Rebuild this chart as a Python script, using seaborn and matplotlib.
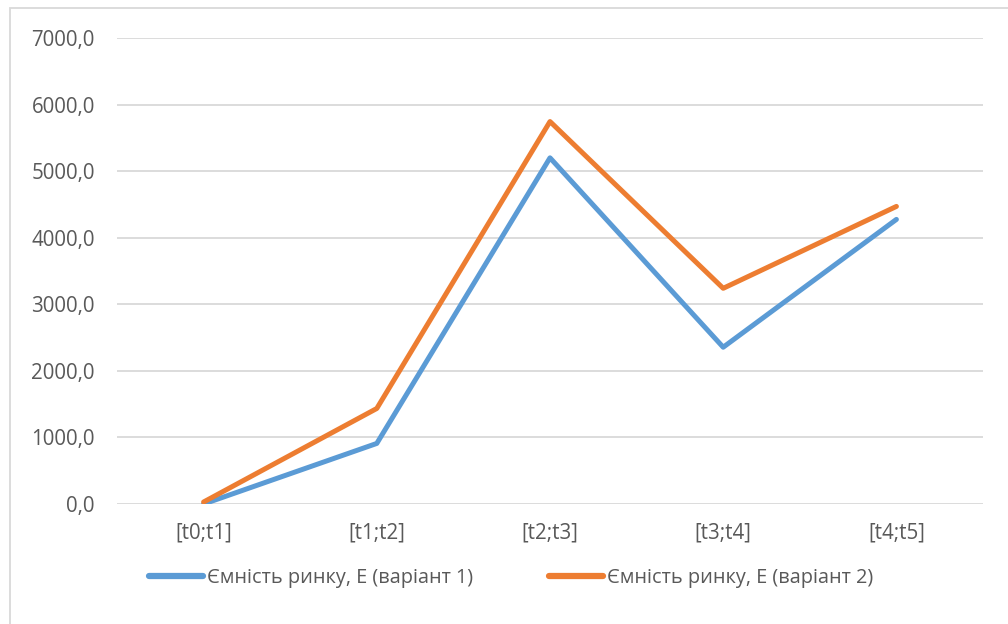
import matplotlib
matplotlib.use("Agg")
import matplotlib.pyplot as plt
import seaborn as sns
import pandas as pd
from matplotlib.patches import Rectangle

periods = ["[t0;t1]", "[t1;t2]", "[t2;t3]", "[t3;t4]", "[t4;t5]"]
variant1 = [0.0, 910.0, 5200.0, 2355.0, 4275.0]
variant2 = [30.0, 1435.0, 5745.0, 3240.0, 4470.0]
series_names = ["Ємність ринку, Е (варіант 1)", "Ємність ринку, Е (варіант 2)"]
y_ticks = [0, 1000, 2000, 3000, 4000, 5000, 6000, 7000]

df = pd.DataFrame({
    "period": periods * 2,
    "value": variant1 + variant2,
    "series": [series_names[0]] * len(periods) + [series_names[1]] * len(periods),
})

sns.set_theme(style="white")
plt.rcParams["font.family"] = ["Open Sans", "DejaVu Sans"]
text_color = "#595959"
grid_color = "#d9d9d9"

fig = plt.figure(figsize=(10.08, 6.24), dpi=100)
ax = fig.add_axes([117 / 1008, 1 - 504 / 624, (983 - 117) / 1008, (504 - 38) / 624])

sns.lineplot(data=df, x="period", y="value", hue="series",
             palette=["#5b9bd5", "#ed7d31"], linewidth=3.6, ax=ax,
             sort=False, legend=True)
for line in ax.get_lines():
    line.set_solid_capstyle("round")
    line.set_solid_joinstyle("round")

ax.set_xlim(-0.5, len(periods) - 0.5)
ax.set_ylim(0, 7000)
ax.set_yticks(y_ticks)
ax.set_yticklabels([f"{v:.1f}".replace(".", ",") for v in y_ticks])
ax.set_xlabel("")
ax.set_ylabel("")
ax.grid(axis="y", color=grid_color, linewidth=1.3)
ax.grid(axis="x", visible=False)
ax.set_axisbelow(True)
for s in ax.spines.values():
    s.set_visible(False)
ax.tick_params(axis="both", length=0, labelsize=14.8, colors=text_color)
ax.tick_params(axis="y", pad=16)
ax.tick_params(axis="x", pad=13)

handles, labels = ax.get_legend_handles_labels()
ax.get_legend().remove()
leg = fig.legend(handles, labels, loc="center", bbox_to_anchor=(0.507, 1 - 578 / 624),
                 ncol=2, frameon=False, fontsize=14.3, handlelength=2.75,
                 handletextpad=0.2, columnspacing=3.8, labelcolor=text_color)
for h in leg.legend_handles:
    h.set_linewidth(4.5)
    h.set_solid_capstyle("round")

fig.patches.append(Rectangle((10 / 1008, -0.01), 1.0, 1 - 8 / 624 + 0.01,
                             transform=fig.transFigure, fill=False,
                             edgecolor="#d9d9d9", linewidth=1.3))

fig.savefig("out.png", dpi=100, facecolor="white")
